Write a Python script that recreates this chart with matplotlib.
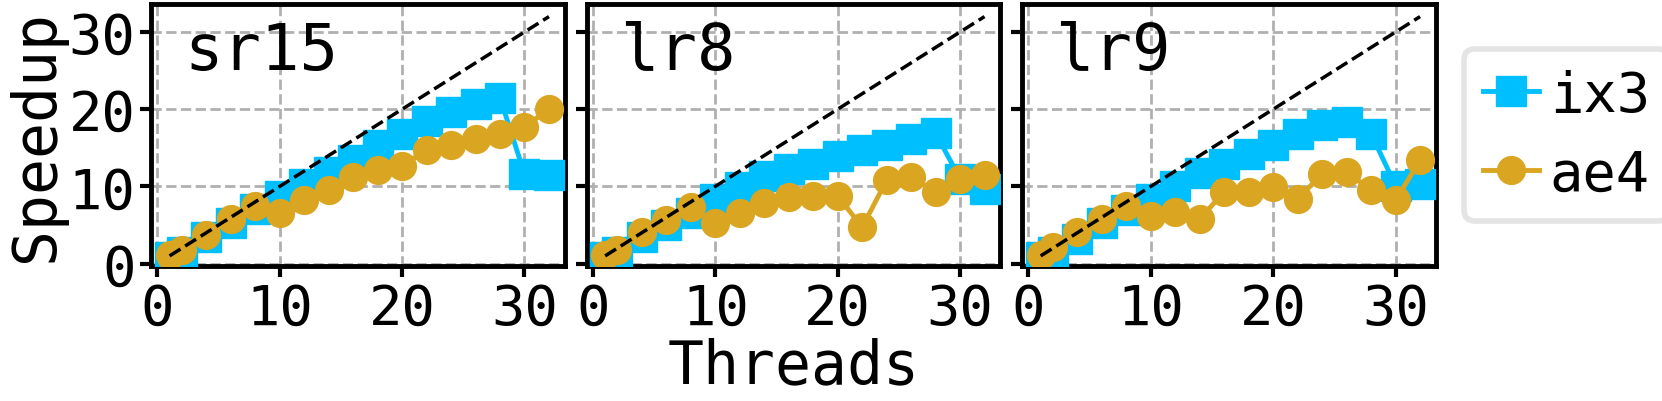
import numpy as np
import matplotlib
matplotlib.use("Agg")
import matplotlib.pyplot as plt

# thread counts
threads = [1, 2, 4, 6, 8, 10, 12, 14, 16, 18, 20, 22, 24, 26, 28, 30, 32]

panels = ["sr15", "lr8", "lr9"]

# speedup per panel
ix3_sr15 = [0.9, 1.5, 3.4, 5.3, 7.1, 8.8, 10.3, 11.9, 13.4, 15.3, 16.8, 18.5, 19.6, 20.7, 21.5, 11.6, 11.5]
ae4_sr15 = [1.1, 1.7, 3.7, 5.8, 7.5, 6.5, 8.2, 9.5, 11.2, 12.1, 12.7, 14.7, 15.3, 16.2, 16.8, 17.7, 20.0]

ix3_lr8 = [0.9, 1.5, 3.5, 5.0, 6.6, 8.4, 9.9, 11.4, 12.3, 12.9, 14.0, 14.7, 15.3, 16.2, 16.9, 11.0, 9.7]
ae4_lr8 = [1.1, 1.7, 4.1, 5.6, 7.3, 5.2, 6.5, 7.8, 8.6, 8.8, 8.8, 4.7, 10.8, 11.2, 9.3, 11.0, 11.5]

ix3_lr9 = [0.9, 1.5, 3.2, 5.2, 6.9, 8.4, 10.1, 11.7, 12.9, 14.2, 15.4, 16.8, 17.9, 18.3, 16.8, 10.1, 10.3]
ae4_lr9 = [1.1, 2.2, 4.1, 5.8, 7.5, 6.2, 6.7, 5.8, 9.3, 9.3, 9.9, 8.4, 11.6, 11.9, 9.5, 8.2, 13.4]

ix3 = [ix3_sr15, ix3_lr8, ix3_lr9]
ae4 = [ae4_sr15, ae4_lr8, ae4_lr9]

plt.rcParams['font.family'] = ['DejaVu Sans Mono', 'DejaVu Sans']
plt.rcParams['axes.linewidth'] = 3.5

fig, axes = plt.subplots(1, 3, figsize=(16.62, 4.02), dpi=100, sharey=True)
fig.subplots_adjust(left=0.091, right=0.864, bottom=0.336, top=0.987, wspace=0.053)

for i, ax in enumerate(axes):
    ax.plot(threads, ix3[i], marker='s', color='deepskyblue', lw=3.5, ms=21, label='ix3', zorder=3)
    ax.plot(threads, ae4[i], marker='o', color='goldenrod', lw=3.5, ms=20, label='ae4', zorder=4)
    ax.plot([1, 32], [1, 32], 'k--', lw=2.5, zorder=5)
    ax.grid(True, color='#b0b0b0', linestyle='--', linewidth=2)
    ax.set_axisbelow(True)
    ax.set_xlim(-0.5, 33.3)
    ax.set_ylim(-0.3, 33.6)
    ax.set_xticks([0, 10, 20, 30])
    ax.set_yticks([0, 10, 20, 30])
    ax.tick_params(labelsize=40, length=8, width=3)
    ax.text(0.08, 0.82, panels[i], transform=ax.transAxes, fontsize=46, va='center')

axes[0].set_ylabel("Speedup", fontsize=43, labelpad=2)
axes[1].set_xlabel("Threads", fontsize=43, labelpad=0)
leg = axes[2].legend(loc='center left', bbox_to_anchor=(1.0, 0.5), fontsize=40,
                     handlelength=1.0, handletextpad=0.2, labelspacing=0.45,
                     borderpad=0.35, borderaxespad=0.5, fancybox=True, framealpha=1)
leg.get_frame().set_linewidth(4)
leg.get_frame().set_edgecolor('#e4e4e4')

fig.savefig("out.png", dpi=100)
